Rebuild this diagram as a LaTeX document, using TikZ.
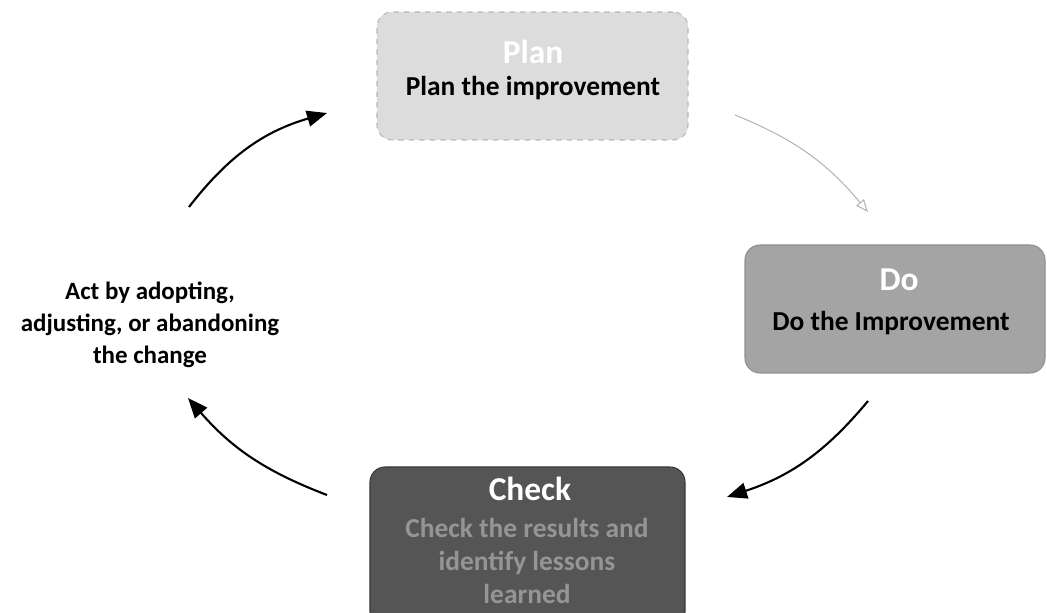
\documentclass[tikz,border=0pt]{standalone}
\usepackage{fontspec}
\setmainfont{Carlito}
\usetikzlibrary{arrows.meta}
\definecolor{planfill}{HTML}{DCDCDC}
\definecolor{planedge}{HTML}{B8B8B8}
\definecolor{dofill}{HTML}{A4A4A4}
\definecolor{doedge}{HTML}{909090}
\definecolor{checkfill}{HTML}{555555}
\definecolor{checkedge}{HTML}{3A3A3A}
\definecolor{checktext}{HTML}{959595}
\definecolor{faint}{HTML}{B4B4B4}
\tikzset{
  x=0.2mm, y=-0.2mm,
  box/.style={rounded corners=3mm, inner sep=0pt, line width=0.6pt},
  titletext/.style={font=\bfseries\fontsize{19}{22}\selectfont, text=white, inner sep=0pt},
  bodytext/.style={font=\bfseries\fontsize{15.6}{19.9}\selectfont, align=center, inner sep=0pt},
  cyc/.style={line width=1.2pt, -{Triangle[length=4mm,width=3.2mm]}},
  faintcyc/.style={line width=0.6pt, draw=faint, -{Triangle[open,length=2.5mm,width=2mm]}}
}
\begin{document}
\begin{tikzpicture}
\useasboundingbox (0,0) rectangle (1047,613);
\clip (0,0) rectangle (1047,613);
% boxes
\node[box, draw=planedge, dashed, fill=planfill, minimum width=62.2mm, minimum height=25.6mm] (plan) at (532.5,76) {};
\node[box, draw=doedge, fill=dofill, minimum width=60mm, minimum height=25.6mm] (do) at (895,309) {};
\node[box, draw=checkedge, fill=checkfill, minimum width=63mm, minimum height=32mm] (check) at (527.5,547) {};
% texts
\node[titletext] (plantitle) at (533,52) {Plan};
\node[bodytext] (planbody) at (533,88) {Plan the improvement};
\node[titletext] (dotitle) at (899,280) {Do};
\node[bodytext] (dobody) at (891,323) {Do the Improvement};
\node[titletext] (checktitle) at (530,489) {Check};
\node[bodytext, text=checktext, font=\bfseries\fontsize{15.6}{18.6}\selectfont] (checkbody) at (527,561) {Check the results and\\identify lessons\\learned};
\node[bodytext, font=\bfseries\fontsize{14.2}{18.1}\selectfont] (act) at (150,325) {Act by adopting,\\adjusting, or abandoning\\the change};
% connector end points
\coordinate (a1) at (189,207);
\coordinate (a2) at (327,113);
\coordinate (b1) at (735,115);
\coordinate (b2) at (868,212);
\coordinate (c1) at (868,401);
\coordinate (c2) at (727,497);
\coordinate (d1) at (327,495);
\coordinate (d2) at (188,398);
% connectors
\draw[cyc] (a1) to[bend left=18] (a2);
\draw[faintcyc] (b1) to[bend left=14] (b2);
\draw[cyc] (c1) to[bend left=16] (c2);
\draw[cyc] (d1) to[bend left=14] (d2);
\end{tikzpicture}
\end{document}
